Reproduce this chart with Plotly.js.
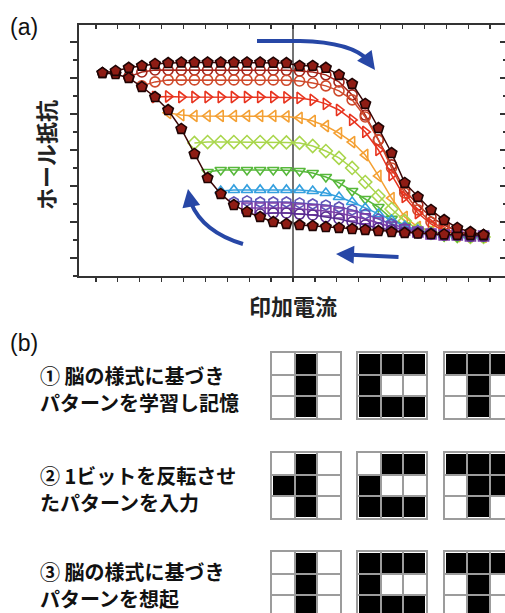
<!DOCTYPE html>
<html>
<head>
<meta charset="utf-8">
<script src="https://cdn.plot.ly/plotly-3.0.1.min.js"></script>
<style>
html,body{margin:0;padding:0;overflow:hidden;background:#fff;}
#chart{width:512px;height:613px;}
</style>
</head>
<body>
<div id="chart"></div>
<script>
// ---------- data: panel (a) ----------
const X_CUR = [-8.7,-8.1,-7.5,-6.9,-6.3,-5.7,-5.1,-4.5,-3.9,-3.3,-2.7,-2.1,-1.5,-0.9,-0.3,
               0.3,0.9,1.5,2.1,2.7,3.3,3.9,4.5,5.1,5.7,6.3,6.9,7.5,8.1,8.7];
const MAIN_UP = [11.28,11.39,11.56,11.67,11.78,11.83,11.86,11.86,11.86,11.86,11.86,11.86,11.86,11.85,11.83,
                 11.67,11.67,11.56,11.17,10.67,9.56,8.22,6.83,5.17,4.39,3.67,3.11,2.67,2.44,2.28];
const MAIN_DOWN = [11.28,11.22,11.0,10.5,9.94,9.22,8.17,6.78,5.44,4.56,3.94,3.56,3.28,3.0,2.89,
                   2.83,2.78,2.72,2.67,2.61,2.56,2.5,2.44,2.39,2.36,2.33,2.31,2.28,2.28,2.28];
const LOOP_START = [-7.5,-6.9,-6.3,-5.7,-4.5,-3.9,-3.3,-2.7,-2.1,-1.5];
const LOOP1 = [11.06,11.33,11.44,11.44,11.44,11.44,11.44,11.44,11.44,11.44,11.44,11.44,11.42,
               11.39,11.33,11.17,10.78,10.06,8.94,7.56,6.17,4.78,3.94,3.28,2.83,2.5,2.33,2.22];
const LOOP2 = [10.56,10.78,10.89,10.89,10.89,10.89,10.89,10.89,10.89,10.89,10.89,10.87,
               10.83,10.72,10.56,10.28,9.78,8.83,7.56,6.0,4.61,3.67,3.0,2.61,2.39,2.28,2.22];
const LOOP3 = [9.94,9.97,9.94,9.94,9.94,9.94,9.94,9.94,9.94,9.94,9.92,
               9.89,9.78,9.56,9.22,8.67,8.0,7.0,5.61,4.39,3.5,2.89,2.5,2.33,2.22,2.22];
const LOOP4 = [9.06,8.94,8.89,8.89,8.89,8.89,8.89,8.89,8.89,8.86,
               8.78,8.61,8.33,7.94,7.44,6.72,5.56,4.33,3.28,2.72,2.44,2.28,2.22,2.22,2.17];
const LOOP5 = [7.39,7.44,7.44,7.44,7.44,7.44,7.44,7.42,
               7.39,7.22,6.94,6.56,6.0,5.22,4.44,3.72,3.06,2.61,2.39,2.28,2.22,2.17,2.17];
const LOOP6 = [5.78,5.89,5.89,5.89,5.89,5.89,5.87,
               5.83,5.72,5.5,5.17,4.72,4.28,3.83,3.17,2.78,2.5,2.33,2.22,2.17,2.17,2.17];
const LOOP7 = [4.72,4.78,4.78,4.78,4.78,4.78,
               4.78,4.72,4.61,4.39,4.11,3.78,3.44,3.11,2.78,2.56,2.39,2.28,2.22,2.22,2.17];
const LOOP8 = [4.11,4.17,4.11,4.11,4.11,
               4.06,4.0,3.94,3.83,3.67,3.44,3.17,2.89,2.67,2.5,2.39,2.33,2.28,2.28,2.22];
const LOOP9 = [3.78,3.78,3.78,3.78,
               3.72,3.67,3.61,3.5,3.33,3.17,2.94,2.72,2.56,2.44,2.33,2.28,2.28,2.22,2.22];
const LOOP10 = [3.44,3.5,3.5,
                3.44,3.39,3.28,3.17,3.0,2.83,2.67,2.56,2.44,2.39,2.33,2.28,2.28,2.22,2.22];
const LOOPS = [LOOP1,LOOP2,LOOP3,LOOP4,LOOP5,LOOP6,LOOP7,LOOP8,LOOP9,LOOP10];

// ---------- data: panel (b) ----------
const PATTERNS_LEARN = [
  [[0,1,0],[0,1,0],[0,1,0]],
  [[1,1,1],[1,0,0],[1,1,1]],
  [[1,1,1],[0,1,0],[0,1,0]]
];
const PATTERNS_INPUT = [
  [[0,1,0],[1,1,0],[0,1,0]],
  [[0,1,1],[1,0,0],[1,1,1]],
  [[1,1,1],[0,1,1],[0,1,0]]
];
const PATTERNS_RECALL = [
  [[0,1,0],[0,1,0],[0,1,0]],
  [[1,1,1],[1,0,0],[1,1,1]],
  [[1,1,1],[0,1,0],[0,1,0]]
];
const STEP_LINES = [
  ['① 脳の様式に基づき', 'パターンを学習し記憶'],
  ['② 1ビットを反転させ', 'たパターンを入力'],
  ['③ 脳の様式に基づき', 'パターンを想起']
];
const X_TITLE = '印加電流';
const Y_TITLE = 'ホール抵抗';

// ---------- styles ----------
const LOOP_COLORS = ['#a3251a','#cf4a2c','#e8341f','#f4a033','#a9d64c','#57b83b','#35a0df','#5f55b8','#7a3ea8','#5a2d91'];
const LOOP_SYMBOLS = ['circle-open','circle-open','triangle-right-open','triangle-left-open','diamond-open',
                      'triangle-down-open','triangle-up-open','hexagon-open','square-open','circle-open'];
const W = 512, H = 613;
const px = v => v / W;
const py = v => 1 - v / H;
const CJK = '"Noto Sans CJK JP", "Noto Sans", sans-serif';

const traces = [];
LOOPS.forEach((ys, i) => {
  const k = X_CUR.indexOf(LOOP_START[i]);
  traces.push({
    type: 'scatter', mode: 'lines+markers', xaxis: 'x', yaxis: 'y',
    x: X_CUR.slice(k), y: ys,
    line: {color: LOOP_COLORS[i], width: 1.5},
    marker: {symbol: LOOP_SYMBOLS[i], size: 10, color: LOOP_COLORS[i], line: {width: 1.6, color: LOOP_COLORS[i]}},
    hoverinfo: 'skip'
  });
});
const half = X_CUR.indexOf(-0.3) + 1;
const mainMarker = {symbol: 'pentagon', size: 11, color: '#8e1c14', line: {width: 1.6, color: '#1e0404'}};
traces.push({
  type: 'scatter', mode: 'lines+markers', xaxis: 'x', yaxis: 'y',
  x: X_CUR.slice(0, half).concat([null], X_CUR.slice(half)),
  y: MAIN_DOWN.slice(0, half).concat([null], MAIN_DOWN.slice(half)),
  line: {color: '#3a0606', width: 1.5}, marker: mainMarker, hoverinfo: 'skip'
});
traces.push({
  type: 'scatter', mode: 'lines+markers', xaxis: 'x', yaxis: 'y',
  x: X_CUR, y: MAIN_UP,
  line: {color: '#3a0606', width: 1.5}, marker: mainMarker, hoverinfo: 'skip'
});

// grids
const gridCols = [[272,340],[358,426],[445,513]];
const gridRows = [[353,418],[453,518],[552,613]];
const rowPatterns = [PATTERNS_LEARN, PATTERNS_INPUT, PATTERNS_RECALL];
const layout = {
  width: W, height: H,
  margin: {l:0, r:0, t:0, b:0},
  paper_bgcolor: '#fff', plot_bgcolor: '#fff',
  showlegend: false,
  xaxis: {domain: [px(79), px(507)], range: [-9.77, 9.77], anchor: 'y',
          showticklabels: false, ticks: 'outside', ticklen: 4, tickwidth: 1.3, tickcolor: '#333',
          tick0: 0, dtick: 1, showgrid: false, zeroline: false,
          showline: true, mirror: true, linecolor: '#333', linewidth: 1.6},
  yaxis: {domain: [py(276), py(25)], range: [0, 13.94], anchor: 'x',
          showticklabels: false, ticks: 'outside', ticklen: 7, tickwidth: 1.3, tickcolor: '#333',
          tick0: 1, dtick: 2,
          minor: {tick0: 0, dtick: 1, ticks: 'outside', ticklen: 4, tickcolor: '#333', tickwidth: 1.3},
          showgrid: false, zeroline: false,
          showline: true, mirror: true, linecolor: '#333', linewidth: 1.6},
  xaxis2: {overlaying: 'x', anchor: 'y', side: 'top', range: [-9.77, 9.77],
           showticklabels: false, ticks: 'inside', ticklen: 4, tickwidth: 1.3, tickcolor: '#333',
           tick0: 0, dtick: 1, showgrid: false, zeroline: false, showline: false},
  yaxis2: {overlaying: 'y', anchor: 'x', side: 'right', range: [0, 13.94],
           showticklabels: false, ticks: 'inside', ticklen: 7, tickwidth: 1.3, tickcolor: '#333',
           tick0: 1, dtick: 2,
           minor: {tick0: 0, dtick: 1, ticks: 'inside', ticklen: 4, tickcolor: '#333', tickwidth: 1.3},
           showgrid: false, zeroline: false, showline: false},
  shapes: [], annotations: []
};
// empty traces so the mirror axes are drawn
traces.push({type:'scatter', mode:'markers', x:[null], y:[null], xaxis:'x2', yaxis:'y', hoverinfo:'skip'});
traces.push({type:'scatter', mode:'markers', x:[null], y:[null], xaxis:'x', yaxis:'y2', hoverinfo:'skip'});

let axN = 3;
rowPatterns.forEach((pats, r) => {
  pats.forEach((z, c) => {
    const xa = 'xaxis' + axN, ya = 'yaxis' + axN;
    const rowTop = gridRows[r][0], rowBot = gridRows[r][1];
    const bottomRange = -0.5 + 3 * (rowBot - rowTop) / 65;
    layout[xa] = {domain: [px(gridCols[c][0]), px(gridCols[c][1])], anchor: 'y' + axN, range: [-0.5, 2.5],
                  showticklabels: false, ticks: '', tickmode: 'array', tickvals: [0.5, 1.5],
                  showgrid: true, gridcolor: '#9c9c9c', gridwidth: 2, zeroline: false,
                  showline: true, mirror: true, linecolor: '#9c9c9c', linewidth: 2, fixedrange: true};
    layout[ya] = {domain: [Math.max(0, py(rowBot)), py(rowTop)], anchor: 'x' + axN, range: [bottomRange, -0.5],
                  showticklabels: false, ticks: '', tickmode: 'array', tickvals: [0.5, 1.5],
                  showgrid: true, gridcolor: '#9c9c9c', gridwidth: 2, zeroline: false,
                  showline: true, mirror: true, linecolor: '#9c9c9c', linewidth: 2, fixedrange: true};
    traces.push({type: 'heatmap', z: z, x: [0,1,2], y: [0,1,2], xaxis: 'x' + axN, yaxis: 'y' + axN,
                 colorscale: [[0,'#ffffff'],[1,'#000000']], zmin: 0, zmax: 1, showscale: false,
                 xgap: 2, ygap: 2, hoverinfo: 'skip'});
    axN++;
  });
});

// zero line
layout.shapes.push({type: 'line', xref: 'x', yref: 'y domain', x0: 0, x1: 0, y0: 0, y1: 1,
                    line: {color: '#444', width: 1.5}, layer: 'below'});
// blue arrows (pixel guide points converted to axis units)
const ax = p => (p - 293) / 21.9;
const ay = p => (276 - p) / 18;
const ARROW = '#2747a6';
layout.shapes.push({type: 'path', xref: 'x', yref: 'y',
  path: `M ${ax(257)},${ay(41)} L ${ax(300)},${ay(41)} Q ${ax(352)},${ay(42)} ${ax(369)},${ay(61)}`,
  line: {color: ARROW, width: 4}});
layout.shapes.push({type: 'path', xref: 'x', yref: 'y',
  path: `M ${ax(243)},${ay(244)} Q ${ax(203)},${ay(232)} ${ax(191)},${ay(203)}`,
  line: {color: ARROW, width: 4}});
function head(x0, y0, x1, y1) {
  layout.annotations.push({xref: 'x', yref: 'y', axref: 'x', ayref: 'y',
    x: ax(x1), y: ay(y1), ax: ax(x0), ay: ay(y0), text: '', showarrow: true,
    arrowhead: 2, arrowsize: 0.9, arrowwidth: 4, arrowcolor: ARROW});
}
head(364, 55, 375, 70);
head(400, 257, 336, 254);
head(191, 205, 188, 189);

// texts
const A = layout.annotations;
A.push({xref:'paper', yref:'paper', x: px(8), y: py(27), xanchor:'left', yanchor:'middle', showarrow:false,
        text:'(a)', font:{family:'Liberation Sans, Arial, sans-serif', size:23, color:'#111'}});
A.push({xref:'paper', yref:'paper', x: px(8), y: py(343), xanchor:'left', yanchor:'middle', showarrow:false,
        text:'(b)', font:{family:'Liberation Sans, Arial, sans-serif', size:23, color:'#111'}});
A.push({xref:'paper', yref:'paper', x: px(45), y: py(155), xanchor:'center', yanchor:'middle', showarrow:false,
        textangle:-90, text: Y_TITLE, font:{family:CJK, size:22, color:'#222', weight:700}});
A.push({xref:'paper', yref:'paper', x: px(293), y: py(305), xanchor:'center', yanchor:'middle', showarrow:false,
        text: X_TITLE, font:{family:CJK, size:22, color:'#222', weight:700}});
const lineY = [[375, 402], [475, 502], [571, 598]];
STEP_LINES.forEach((pair, i) => {
  pair.forEach((t, j) => {
    A.push({xref:'paper', yref:'paper', x: px(38), y: py(lineY[i][j]), xanchor:'left', yanchor:'middle',
            align:'left', showarrow:false, text: t,
            font:{family:CJK, size:20, color:'#111', weight:700}});
  });
});

Plotly.newPlot('chart', traces, layout, {staticPlot: true, displayModeBar: false});
</script>
</body>
</html>
